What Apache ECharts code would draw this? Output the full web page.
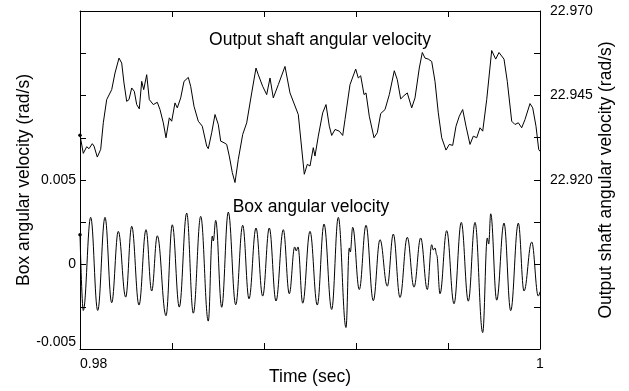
<!DOCTYPE html>
<html><head><meta charset="utf-8">
<script src="https://cdn.jsdelivr.net/npm/echarts@6/dist/echarts.min.js"></script>
<style>html,body{margin:0;padding:0;background:#fff}#c{width:629px;height:391px}</style>
</head><body><div id="c"></div>
<script>
// Output shaft angular velocity (right axis, rad/s)
const shaftTime = [0.98000,0.980143,0.980291,0.980391,0.980535,0.980609,0.980752,0.980900,0.981013,0.981161,
0.981378,0.981522,0.981696,0.981813,0.981913,0.982030,0.982130,0.982248,0.982361,0.982465,
0.982578,0.982683,0.982770,0.982900,0.983013,0.983187,0.983361,0.983478,0.983622,0.983739,
0.983883,0.983987,0.984130,0.984230,0.984378,0.984522,0.984709,0.984813,0.984957,0.985143,
0.985317,0.985509,0.985578,0.985726,0.985870,0.986013,0.986117,0.986261,0.986378,0.986491,
0.986622,0.986739,0.986883,0.987074,0.987248,0.987465,0.987652,0.987752,0.987943,0.988117,
0.988261,0.988404,0.988622,0.988913,0.989130,0.989491,0.989752,0.989883,0.990000,0.990143,
0.990217,0.990361,0.990552,0.990696,0.990839,0.990943,0.991087,0.991274,0.991422,0.991522,
0.991739,0.991987,0.992100,0.992204,0.992348,0.992435,0.992578,0.992783,0.992926,0.993074,
0.993261,0.993448,0.993665,0.993796,0.993943,0.994087,0.994230,0.994422,0.994565,0.994752,
0.994883,0.995000,0.995143,0.995291,0.995435,0.995578,0.995726,0.995913,0.996057,0.996204,
0.996348,0.996491,0.996639,0.996783,0.996957,0.997100,0.997248,0.997391,0.997509,0.997683,
0.997900,0.998074,0.998217,0.998435,0.998578,0.998770,0.998913,0.999057,0.999204,0.999348,
0.999565,0.999683,0.999826,0.999943,1.000000];
const shaftVel = [22.93327,22.92788,22.92985,22.92926,22.93074,22.93003,22.92679,22.92906,22.93692,22.94379,
22.94673,22.95165,22.95607,22.95460,22.94870,22.94328,22.94379,22.94723,22.94623,22.94231,
22.94105,22.94918,22.94673,22.95115,22.94379,22.94231,22.94299,22.94084,22.93692,22.93250,
22.93839,22.93739,22.94281,22.94134,22.94429,22.94918,22.95035,22.94770,22.94181,22.93739,
22.93592,22.93003,22.92926,22.93398,22.93937,22.93642,22.93150,22.93103,22.93053,22.92708,
22.92219,22.91925,22.92611,22.93348,22.93692,22.94576,22.95312,22.95115,22.94770,22.94526,
22.95018,22.94429,22.94820,22.95359,22.94576,22.93937,22.92169,22.92464,22.92414,22.92956,
22.92708,22.93298,22.93987,22.94231,22.93592,22.93318,22.93495,22.93445,22.93318,22.93790,
22.94820,22.95283,22.95018,22.95085,22.94526,22.94576,22.93887,22.93250,22.93398,22.93966,
22.94084,22.94526,22.95233,22.94968,22.94399,22.94496,22.94576,22.94134,22.94429,22.95312,
22.95772,22.95607,22.95577,22.95507,22.94918,22.93987,22.93250,22.92885,22.93053,22.93024,
22.93592,22.93887,22.94084,22.93592,22.93053,22.93298,22.93250,22.93545,22.93445,22.94379,
22.95831,22.95577,22.95772,22.95577,22.94918,22.93739,22.93642,22.93692,22.93545,22.93790,
22.94261,22.94134,22.93592,22.92906,22.92847];

// Box angular velocity (left axis, rad/s)
const boxTime = [0.98000,0.980143,0.980465,0.980770,0.981087,0.981378,0.981665,0.981987,0.982248,0.982565,
0.982870,0.983117,0.983361,0.983739,0.984013,0.984317,0.984639,0.984926,0.985248,0.985578,
0.985752,0.985796,0.985900,0.986161,0.986448,0.986770,0.987074,0.987348,0.987652,0.987943,
0.988230,0.988522,0.988839,0.989100,0.989335,0.989404,0.989478,0.989683,0.990000,0.990317,
0.990609,0.990943,0.991230,0.991565,0.991709,0.991752,0.991857,0.992143,0.992435,0.992752,
0.993043,0.993361,0.993622,0.993913,0.994230,0.994522,0.994813,0.995100,0.995291,0.995361,
0.995435,0.995509,0.995652,0.995943,0.996261,0.996578,0.996883,0.997174,0.997509,0.997709,
0.997770,0.997857,0.998117,0.998435,0.998726,0.999057,0.999304,0.999639,0.999926,1.000000];
const boxVel = [0.00176,-0.00272,0.00279,-0.00272,0.00279,-0.00226,0.00196,-0.00193,0.00226,-0.00240,
0.00206,-0.00157,0.00170,-0.00303,0.00235,-0.00252,0.00304,-0.00288,0.00285,-0.00335,
0.00168,0.00139,0.00261,-0.00253,0.00310,-0.00238,0.00232,-0.00203,0.00216,-0.00187,
0.00216,-0.00216,0.00206,-0.00173,0.00104,0.00080,0.00104,-0.00229,0.00196,-0.00240,
0.00239,-0.00266,0.00279,-0.00373,0.00098,0.00074,0.00220,-0.00148,0.00232,-0.00214,
0.00147,-0.00128,0.00180,-0.00195,0.00161,-0.00134,0.00157,-0.00148,0.00117,0.00086,
0.00098,0.00057,-0.00173,0.00200,-0.00232,0.00249,-0.00217,0.00249,-0.00403,0.00157,
0.00121,0.00300,-0.00211,0.00245,-0.00273,0.00245,-0.00157,0.00133,-0.00187,-0.00161];

const xLabelValues = [0.98, 1];
const leftLabelValues = [-0.005, 0, 0.005];
const rightLabelValues = [22.920, 22.945, 22.970];
const rightTickValues = [22.870, 22.8825, 22.895, 22.9075, 22.920, 22.9325, 22.945, 22.9575, 22.970];

const FONT = '"Liberation Sans", Arial, sans-serif';
const chart = echarts.init(document.getElementById('c'), null, {renderer: 'canvas'});
const axisLine = {show: true, onZero: false, lineStyle: {color: '#000', width: 1}};
const tick = {show: true, inside: true, length: 6, lineStyle: {color: '#000', width: 1}};
const labelStyle = {color: '#000', fontSize: 14, fontFamily: FONT};
const nameStyle = {color: '#000', fontSize: 17.5, fontFamily: FONT};
const firstDot = (v, p) => (p.dataIndex === 0 ? 3.5 : 0);

chart.setOption({
  animation: false,
  backgroundColor: '#fff',
  grid: {left: 80, right: 89, top: 11, bottom: 40},
  xAxis: [
    {type: 'value', position: 'bottom', min: 0.98, max: 1, interval: 0.004,
     axisLine, axisTick: tick, splitLine: {show: false},
     axisLabel: Object.assign({}, labelStyle, {margin: 8, alignMinLabel: 'left', customValues: xLabelValues,
       formatter: v => (Math.abs(v - 1) < 1e-9 ? '1' : String(v))}),
     name: 'Time (sec)', nameLocation: 'middle', nameGap: 19, nameMoveOverlap: false, nameTextStyle: nameStyle},
    {type: 'value', position: 'top', min: 0.98, max: 1, interval: 0.004,
     axisLine, axisTick: tick, splitLine: {show: false}, axisLabel: {show: false}}
  ],
  yAxis: [
    {type: 'value', position: 'left', min: -0.005, max: 0.015, interval: 0.0025,
     axisLine, axisTick: tick, splitLine: {show: false},
     axisLabel: Object.assign({}, labelStyle, {margin: 4, customValues: leftLabelValues,
       verticalAlignMinLabel: 'bottom',
       formatter: v => (v === 0 ? '0' : v.toFixed(3))}),
     name: 'Box angular velocity (rad/s)', nameLocation: 'middle', nameGap: 47, nameMoveOverlap: false, nameTextStyle: nameStyle},
    {type: 'value', position: 'right', min: 22.87, max: 22.97,
     axisLine, axisTick: Object.assign({}, tick, {customValues: rightTickValues}), splitLine: {show: false},
     axisLabel: Object.assign({}, labelStyle, {margin: 10, customValues: rightLabelValues,
       formatter: v => v.toFixed(3)}),
     name: 'Output shaft angular velocity (rad/s)', nameLocation: 'middle', nameGap: 57, nameMoveOverlap: false, nameTextStyle: nameStyle}
  ],
  graphic: [
    {type: 'text', x: 320, y: 40, style: {text: 'Output shaft angular velocity', fontSize: 17.5, fontFamily: FONT, fill: '#000', align: 'center', verticalAlign: 'middle'}},
    {type: 'text', x: 311, y: 207, style: {text: 'Box angular velocity', fontSize: 17.5, fontFamily: FONT, fill: '#000', align: 'center', verticalAlign: 'middle'}}
  ],
  series: [
    {type: 'line', name: 'Output shaft angular velocity', xAxisIndex: 0, yAxisIndex: 1,
     data: shaftTime.map((t, i) => [t, shaftVel[i]]),
     showSymbol: true, symbol: 'circle', symbolSize: firstDot, itemStyle: {color: '#000'},
     lineStyle: {color: '#000', width: 1}},
    {type: 'line', name: 'Box angular velocity', xAxisIndex: 0, yAxisIndex: 0,
     data: boxTime.map((t, i) => [t, boxVel[i]]),
     smooth: 0.4, smoothMonotone: 'x',
     showSymbol: true, symbol: 'circle', symbolSize: firstDot, itemStyle: {color: '#000'},
     lineStyle: {color: '#000', width: 1}}
  ]
});
</script></body></html>
